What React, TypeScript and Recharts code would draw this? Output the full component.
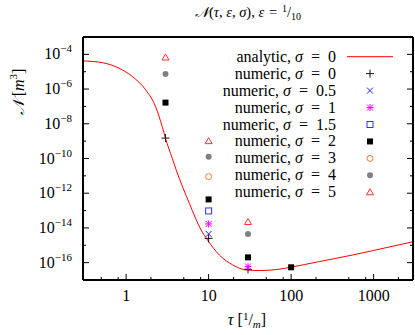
import React from 'react';
import { ComposedChart, Line, Scatter, XAxis, YAxis } from 'recharts';

// analytic curve, sigma = 0
const analyticTau = [0.3, 0.52, 0.82, 1.2, 1.73, 2.28, 2.75, 3, 3.63, 4.03, 5.84, 8.1, 9.7, 13.5, 19.6, 28.3, 41, 72, 98, 219, 554, 972, 3000];
const analyticN = [4.2e-5, 3.3e-5, 1.6e-5, 5.1e-6, 8.9e-7, 9.5e-8, 6.3e-9, 1.45e-9, 1.0e-10, 2.3e-11, 2.6e-13, 7.6e-15, 2.0e-15, 2.75e-16, 7.4e-17, 3.8e-17, 3.5e-17, 4.2e-17, 5.4e-17, 1.15e-16, 2.75e-16, 4.9e-16, 1.6e-15];

// numeric results at tau = 3, 10, 30, 100
const numericTau = [3, 10, 30, 100];
const sigma0 = [1.5e-9, 2.5e-15, 4.1e-17, null];
const sigma05 = [null, 4.5e-15, null, null];
const sigma1 = [null, 1.7e-14, 6.0e-17, null];
const sigma15 = [null, 9.5e-14, null, null];
const sigma2 = [1.66e-7, 4.4e-13, 2.0e-16, 5.4e-17];
const sigma3 = [null, 9.1e-12, null, null];
const sigma4 = [7.4e-6, 1.26e-10, 4.5e-15, null];
const sigma5 = [6.6e-5, 1.0e-9, 2.2e-14, null];

const xMajorTicks = [1, 10, 100, 1000];
const xMinorTicks = [0.5, 0.8, 2, 5, 8, 20, 50, 80, 200, 500, 800, 2000];
const yMajorTicks = [1e-16, 1e-14, 1e-12, 1e-10, 1e-8, 1e-6, 1e-4];
const yMinorTicks = [1e-15, 1e-13, 1e-11, 1e-9, 1e-7, 1e-5];

const sigmaLabels = ['0', '0', '0.5', '1', '1.5', '2', '3', '4', '5'];
const seriesNames = ['analytic', 'numeric', 'numeric', 'numeric', 'numeric', 'numeric', 'numeric', 'numeric', 'numeric'];
const markerKinds = ['line', 'plus', 'cross', 'star', 'openSquare', 'filledSquare', 'openCircle', 'filledCircle', 'openTriangle'];
const numericValues = [sigma0, sigma05, sigma1, sigma15, sigma2, sigma3, sigma4, sigma5];

const FONT = '"Liberation Serif", "DejaVu Serif", serif';
const W = 415;
const H = 335;

const analyticData = analyticTau.map((t, i) => ({ tau: t, N: analyticN[i] }));
const numericSeries = numericValues.map((vals, k) => ({
  kind: markerKinds[k + 1],
  data: numericTau
    .map((t, i) => ({ tau: t, N: vals[i] }))
    .filter((d) => d.N !== null),
}));

function Marker({ kind, cx, cy }: { kind: string; cx: number; cy: number }) {
  switch (kind) {
    case 'plus':
      return <path d={`M${cx - 4},${cy}H${cx + 4}M${cx},${cy - 4}V${cy + 4}`} stroke="#111" strokeWidth={1} fill="none" />;
    case 'cross':
      return <path d={`M${cx - 3},${cy - 3}L${cx + 3},${cy + 3}M${cx - 3},${cy + 3}L${cx + 3},${cy - 3}`} stroke="#2020ff" strokeWidth={1} fill="none" />;
    case 'star':
      return (
        <path
          d={`M${cx - 3.5},${cy}H${cx + 3.5}M${cx},${cy - 3.5}V${cy + 3.5}M${cx - 3},${cy - 3}L${cx + 3},${cy + 3}M${cx - 3},${cy + 3}L${cx + 3},${cy - 3}`}
          stroke="#ff00ff"
          strokeWidth={1}
          fill="none"
        />
      );
    case 'openSquare':
      return <rect x={cx - 3} y={cy - 3} width={6} height={6} stroke="#3030ff" strokeWidth={1} fill="none" />;
    case 'filledSquare':
      return <rect x={cx - 3} y={cy - 3} width={6} height={6} fill="#000" />;
    case 'openCircle':
      return <circle cx={cx} cy={cy} r={3} stroke="#ff7a30" strokeWidth={1} fill="none" />;
    case 'filledCircle':
      return <circle cx={cx} cy={cy} r={3} fill="#808080" />;
    case 'openTriangle':
      return <path d={`M${cx},${cy - 3.5}L${cx + 3.5},${cy + 2.5}L${cx - 3.5},${cy + 2.5}Z`} stroke="#ff3030" strokeWidth={1} fill="none" />;
    default:
      return null;
  }
}

const BottomTick = (p: any) => {
  const v = p.payload.value;
  const major = xMajorTicks.includes(v);
  return (
    <g>
      <line x1={p.x} x2={p.x} y1={p.y} y2={p.y - (major ? 6 : 3)} stroke="#000" strokeWidth={1} />
      {major && (
        <text x={p.x} y={p.y + 21} textAnchor="middle" fontFamily={FONT} fontSize={16} fill="#000">
          {String(v)}
        </text>
      )}
    </g>
  );
};

const TopTick = (p: any) => {
  const v = p.payload.value;
  const major = xMajorTicks.includes(v);
  return <line x1={p.x} x2={p.x} y1={p.y} y2={p.y + (major ? 6 : 3)} stroke="#000" strokeWidth={1} />;
};

const LeftTick = (p: any) => {
  const v = p.payload.value;
  const major = yMajorTicks.includes(v);
  const exp = Math.round(Math.log10(v));
  return (
    <g>
      <line x1={p.x} x2={p.x + (major ? 6 : 3)} y1={p.y} y2={p.y} stroke="#000" strokeWidth={1} />
      {major && (
        <text x={p.x - 11} y={p.y + 5} textAnchor="end" fontFamily={FONT} fontSize={16} fill="#000">
          10
          <tspan fontSize={11} dy={-7}>{'\u2212' + String(-exp)}</tspan>
        </text>
      )}
    </g>
  );
};

const RightTick = (p: any) => {
  const v = p.payload.value;
  const major = yMajorTicks.includes(v);
  return <line x1={p.x} x2={p.x - (major ? 6 : 3)} y1={p.y} y2={p.y} stroke="#000" strokeWidth={1} />;
};

function Overlay() {
  const rowY0 = 56.7;
  const rowDy = 16.95;
  return (
    <svg width={W} height={H} style={{ position: 'absolute', left: 0, top: 0, pointerEvents: 'none' }}>
      <text x={248} y={17} textAnchor="middle" fontFamily={FONT} fontSize={14.5} fill="#000">
        <tspan fontStyle="italic">{'\uD835\uDCA9'}</tspan>
        (<tspan fontStyle="italic">τ</tspan>, <tspan fontStyle="italic">ε</tspan>, <tspan fontStyle="italic">σ</tspan>), <tspan fontStyle="italic">ε</tspan>
        {'\u2004=\u2004'}
        <tspan fontSize={10} dy={-5}>1</tspan>
        <tspan dy={5}>/</tspan>
        <tspan fontSize={10} dy={3}>10</tspan>
      </text>
      <text
        x={24}
        y={92}
        transform="rotate(-90 24 92)"
        textAnchor="middle"
        fontFamily={FONT}
        fontSize={16}
        fill="#000"
      >
        <tspan fontStyle="italic">{'\uD835\uDCA9'}</tspan> [<tspan fontStyle="italic">m</tspan>
        <tspan fontSize={11} dy={-7}>3</tspan>
        <tspan dy={7}>]</tspan>
      </text>
      <text x={247} y={325} textAnchor="middle" fontFamily={FONT} fontSize={16} fill="#000">
        <tspan fontStyle="italic">τ</tspan> [<tspan fontSize={11} dy={-5}>1</tspan>
        <tspan dy={5}>/</tspan>
        <tspan fontSize={11} fontStyle="italic" dy={3}>m</tspan>
        <tspan dy={-3}>]</tspan>
      </text>
      {seriesNames.map((name, i) => {
        const cy = rowY0 + i * rowDy;
        return (
          <g key={i}>
            <text x={336} y={cy + 5} textAnchor="end" fontFamily={FONT} fontSize={16} fill="#000">
              {name + ', '}
              <tspan fontStyle="italic">σ</tspan>
              {'\u2002=\u2002' + sigmaLabels[i]}
            </text>
            {markerKinds[i] === 'line' ? (
              <line x1={347} x2={393} y1={cy} y2={cy} stroke="#ff0000" strokeWidth={1} />
            ) : (
              <Marker kind={markerKinds[i]} cx={370} cy={cy} />
            )}
          </g>
        );
      })}
    </svg>
  );
}

export default function App() {
  return (
    <div style={{ position: 'absolute', left: 0, top: 0, width: W, height: H, background: '#fff' }}>
      <ComposedChart width={W} height={H} margin={{ top: 27, right: 0, bottom: 25, left: 23 }}>
        <XAxis
          dataKey="tau"
          type="number"
          scale="log"
          domain={[0.3, 3000]}
          allowDataOverflow
          ticks={[...xMinorTicks, ...xMajorTicks]}
          interval={0}
          tickSize={0}
          tickMargin={0}
          tickLine={false}
          tick={BottomTick}
          axisLine={{ stroke: '#000', strokeWidth: 2 }}
          height={30}
        />
        <XAxis
          xAxisId="top"
          orientation="top"
          type="number"
          scale="log"
          domain={[0.3, 3000]}
          allowDataOverflow
          ticks={[...xMinorTicks, ...xMajorTicks]}
          interval={0}
          tickSize={0}
          tickMargin={0}
          tickLine={false}
          tick={TopTick}
          axisLine={{ stroke: '#000', strokeWidth: 2 }}
          height={10}
        />
        <YAxis
          type="number"
          scale="log"
          domain={[1e-17, 1e-3]}
          allowDataOverflow
          ticks={[...yMinorTicks, ...yMajorTicks]}
          interval={0}
          tickSize={0}
          tickMargin={0}
          tickLine={false}
          tick={LeftTick}
          axisLine={{ stroke: '#000', strokeWidth: 2 }}
          width={60}
        />
        <YAxis
          yAxisId="right"
          orientation="right"
          type="number"
          scale="log"
          domain={[1e-17, 1e-3]}
          allowDataOverflow
          ticks={[...yMinorTicks, ...yMajorTicks]}
          interval={0}
          tickSize={0}
          tickMargin={0}
          tickLine={false}
          tick={RightTick}
          axisLine={{ stroke: '#000', strokeWidth: 2 }}
          width={2}
        />
        <Line
          data={analyticData}
          dataKey="N"
          type="monotone"
          stroke="#ff0000"
          strokeWidth={1}
          dot={false}
          activeDot={false}
          isAnimationActive={false}
        />
        {numericSeries.map((s, k) => (
          <Scatter
            key={k}
            data={s.data}
            dataKey="N"
            isAnimationActive={false}
            shape={(p: any) => <Marker kind={s.kind} cx={p.cx} cy={p.cy} />}
          />
        ))}
      </ComposedChart>
      <Overlay />
    </div>
  );
}
